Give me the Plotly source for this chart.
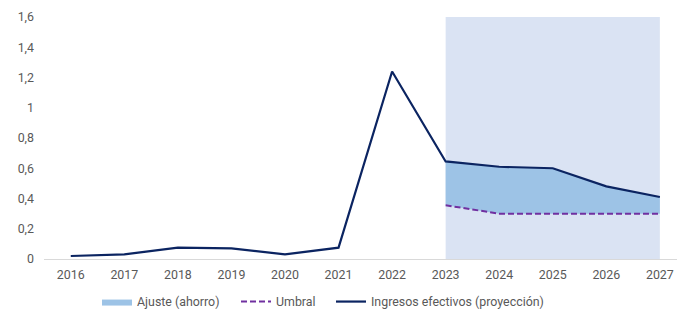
import plotly.graph_objects as go

years = [2016, 2017, 2018, 2019, 2020, 2021, 2022, 2023, 2024, 2025, 2026, 2027]
ingresos = [0.02, 0.03, 0.075, 0.07, 0.03, 0.075, 1.24, 0.645, 0.61, 0.60, 0.48, 0.41]
proj_years = [2023, 2024, 2025, 2026, 2027]
umbral = [0.355, 0.30, 0.30, 0.30, 0.30]
ajuste_top = [0.645, 0.61, 0.60, 0.48, 0.41]
y_ticks = [0, 0.2, 0.4, 0.6, 0.8, 1, 1.2, 1.4, 1.6]
y_tick_text = ["0", "0,2", "0,4", "0,6", "0,8", "1", "1,2", "1,4", "1,6"]

navy = "#0b2461"
purple = "#7030a0"
fill_blue = "#9dc3e6"
shade = "#dae3f3"
gray = "#595959"

fig = go.Figure()
fig.add_trace(go.Scatter(x=proj_years, y=umbral, mode="lines", line=dict(width=0),
                         showlegend=False, hoverinfo="skip"))
fig.add_trace(go.Scatter(x=proj_years, y=ajuste_top, mode="lines", line=dict(width=0),
                         fill="tonexty", fillcolor=fill_blue, name="Ajuste (ahorro)",
                         legend="legend"))
fig.add_trace(go.Scatter(x=proj_years, y=umbral, mode="lines",
                         line=dict(color=purple, width=2, dash="6px,3px"), name="Umbral",
                         legend="legend2"))
fig.add_trace(go.Scatter(x=years, y=ingresos, mode="lines",
                         line=dict(color=navy, width=2.2), name="Ingresos efectivos (proyección)",
                         legend="legend3"))

fig.add_shape(type="rect", xref="x", yref="y", x0=2023, x1=2027, y0=0, y1=1.6,
              fillcolor=shade, line=dict(width=0), layer="below")

W, H = 677, 309
leg_common = dict(orientation="h", xref="container", yref="container", xanchor="left",
                  yanchor="middle", y=1 - 302 / H, font=dict(size=12.4, color=gray),
                  itemwidth=30, bgcolor="rgba(0,0,0,0)")

fig.update_layout(
    width=W, height=H,
    margin=dict(l=44, r=0, t=17, b=50, autoexpand=False),
    paper_bgcolor="white", plot_bgcolor="white",
    font=dict(family="Roboto", size=12.4, color=gray),
    legend=dict(leg_common, x=(103 - 6) / W),
    legend2=dict(leg_common, x=(241 - 5) / W),
    legend3=dict(leg_common, x=(337 - 6) / W),
    xaxis=dict(range=[2015.5, 2027.32], tickvals=years, ticktext=[str(y) for y in years],
               showgrid=False, zeroline=False, showline=True, linecolor="#d9d9d9", linewidth=1,
               ticks="", ticklabelstandoff=4, automargin=False),
    yaxis=dict(range=[0, 1.6], tickvals=y_ticks, ticktext=y_tick_text, showgrid=False,
               zeroline=False, showline=False, ticks="", ticklabelstandoff=9, automargin=False),
)

fig.write_html("out.html", config={"displayModeBar": False},
               post_script="document.body.style.margin='0';document.body.style.padding='0';")
